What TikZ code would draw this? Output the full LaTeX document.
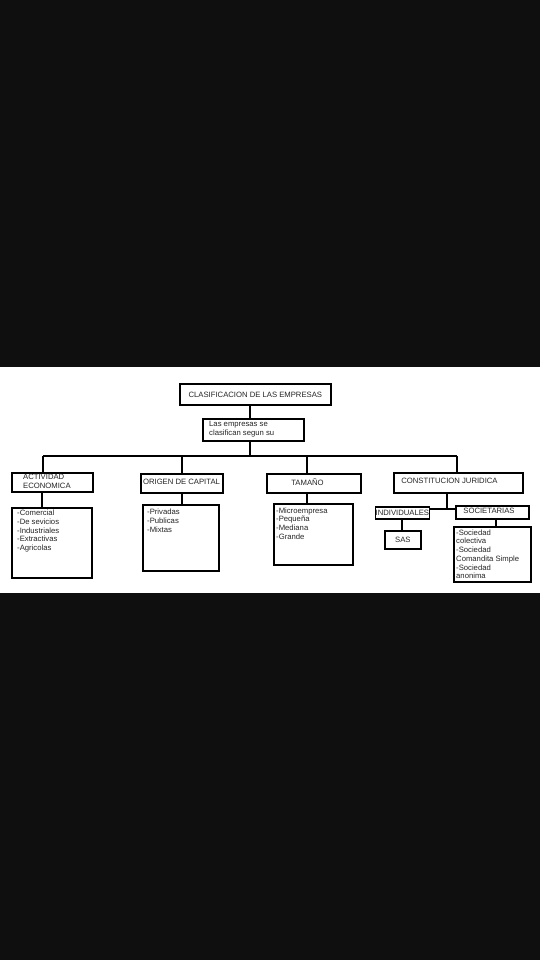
\documentclass[tikz,border=0pt]{standalone}
\usepackage{fontspec}
\setmainfont{Liberation Sans}
\definecolor{bgdark}{HTML}{0F0F0F}
\begin{document}
\begin{tikzpicture}[x=1pt,y=-1pt,
  box/.style={draw=black,line width=1.7pt,inner sep=0pt,anchor=north west},
  link/.style={draw=black,line width=1.7pt},
  txt/.style={inner sep=0pt,font=\fontsize{7.7}{8.7}\selectfont,text=black!85},
  lst/.style={txt,align=left,anchor=north west}]
\useasboundingbox (0,0) rectangle (540,960);
\fill[bgdark] (0,0) rectangle (540,960);
\fill[white] (0,367) rectangle (540,593);
% boxes
\node[box,minimum width=151pt,minimum height=21pt] (title) at (179,383) {};
\node[box,minimum width=101pt,minimum height=22pt] (sub) at (202,418) {};
\node[box,minimum width=81pt,minimum height=19pt] (act) at (11,472) {};
\node[box,minimum width=80pt,minimum height=70pt] (actL) at (11,507) {};
\node[box,minimum width=82pt,minimum height=19pt] (ori) at (140,473) {};
\node[box,minimum width=76pt,minimum height=66pt] (oriL) at (142,504) {};
\node[box,minimum width=94pt,minimum height=19pt] (tam) at (266,473) {};
\node[box,minimum width=79pt,minimum height=61pt] (tamL) at (273,503) {};
\node[box,minimum width=129pt,minimum height=20pt] (con) at (393,472) {};
\node[box,minimum width=54pt,minimum height=12pt] (ind) at (374.5,506) {};
\node[box,minimum width=73pt,minimum height=13pt] (soc) at (455,505) {};
\node[box,minimum width=36pt,minimum height=18pt] (sas) at (384,530) {};
\node[box,minimum width=77pt,minimum height=55pt] (socL) at (453,526) {};
% texts
\node[txt] (tTitle) at (title.center) {CLASIFICACION DE LAS EMPRESAS};
\node[txt,align=left,anchor=west] (tSub) at (209,429) {Las empresas se\\clasifican segun su};
\node[txt,align=left,anchor=west] (tAct) at (23,481) {ACTIVIDAD\\ECONOMICA};
\node[txt] (tOri) at (181.5,481.5) {ORIGEN DE CAPITAL};
\node[txt] (tTam) at (307.5,482.5) {TAMAÑO};
\node[txt] (tCon) at (449.5,481) {CONSTITUCION JURIDICA};
\node[txt] (tInd) at (ind.center) {INDIVIDUALES};
\node[txt] (tSoc) at (489,511) {SOCIETARIAS};
\node[txt] (tSas) at (sas.center) {SAS};
\node[lst] (lAct) at (17,510) {-Comercial\\-De sevicios\\-Industriales\\-Extractivas\\-Agricolas};
\node[lst] (lOri) at (147,509) {-Privadas\\-Publicas\\-Mixtas};
\node[lst] (lTam) at (276,507.5) {-Microempresa\\-Pequeña\\-Mediana\\-Grande};
\node[lst] (lSoc) at (456,529.5) {-Sociedad\\colectiva\\-Sociedad\\Comandita Simple\\-Sociedad\\anonima};
% connectors
\coordinate (bar) at (250,456);
\coordinate (d1) at (43,456);
\coordinate (d2) at (182,456);
\coordinate (d3) at (307,456);
\coordinate (d4) at (457,456);
\coordinate (cj) at (447,509);
\draw[link] (title.south -| bar) -- (sub.north -| bar);
\draw[link] (sub.south -| bar) -- (bar);
\draw[link] (d1) -- (d4);
\draw[link] (d1) -- (d1 |- act.north);
\draw[link] (d2) -- (d2 |- ori.north);
\draw[link] (d3) -- (d3 |- tam.north);
\draw[link] (d4) -- (d4 |- con.north);
\draw[link] (act.south -| 42,0) -- (actL.north -| 42,0);
\draw[link] (ori.south -| d2) -- (oriL.north -| d2);
\draw[link] (tam.south -| d3) -- (tamL.north -| d3);
\draw[link] (con.south -| cj) -- (cj);
\draw[link] (ind.east |- cj) -- (soc.west |- cj);
\draw[link] (ind.south -| 402,0) -- (sas.north -| 402,0);
\draw[link] (soc.south -| 496,0) -- (socL.north -| 496,0);
\end{tikzpicture}
\end{document}
